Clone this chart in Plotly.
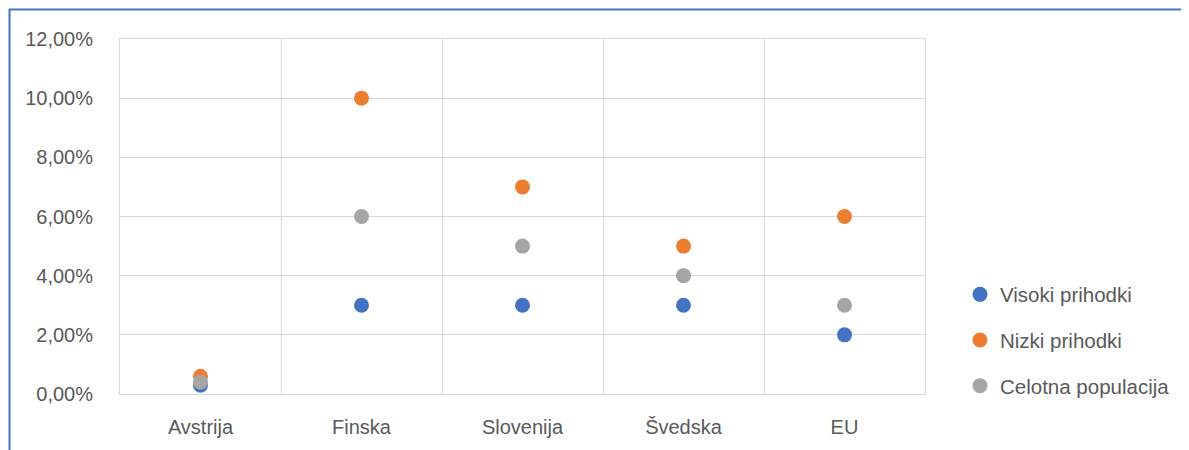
import plotly.graph_objects as go

categories = ["Avstrija", "Finska", "Slovenija", "Švedska", "EU"]
visoki = [0.3, 3, 3, 3, 2]
nizki = [0.6, 10, 7, 5, 6]
celotna = [0.4, 6, 5, 4, 3]
series_names = ["Visoki prihodki", "Nizki prihodki", "Celotna populacija"]
y_ticks = [0, 2, 4, 6, 8, 10, 12]
y_tick_labels = ["0,00%", "2,00%", "4,00%", "6,00%", "8,00%", "10,00%", "12,00%"]

colors = ["#4472C4", "#ED7D31", "#A5A5A5"]
font = "Liberation Sans"

fig = go.Figure()
for i, (name, vals) in enumerate(zip(series_names, [visoki, nizki, celotna])):
    fig.add_trace(go.Scatter(
        x=categories, y=vals, mode="markers", name=name,
        legendgroup=name,
        marker=dict(size=15, color=colors[i]),
    ))

# page body has an 8px offset
OFF = 8
W, H = 1189 - OFF, 450 - OFF
L, T = 120 - OFF, 39 - OFF
pw, ph = 805, 355
R = W - L - pw
B = H - T - ph

def px_x(x):  # window px -> paper x
    return (x - OFF - L) / pw

def px_y(y):  # window px -> paper y
    return (T + ph - (y - OFF)) / ph

fig.update_layout(
    width=W, height=H,
    margin=dict(l=L, r=R, t=T, b=B, autoexpand=False),
    paper_bgcolor="white", plot_bgcolor="white",
    font=dict(family=font, size=20, color="#595959"),
    showlegend=True,
    legend=dict(
        x=px_x(960), y=px_y(340), xanchor="left", yanchor="middle",
        font=dict(size=20.5, color="#595959"),
        tracegroupgap=16, itemsizing="trace", traceorder="grouped",
        itemwidth=30, bgcolor="rgba(0,0,0,0)",
    ),
    xaxis=dict(
        type="category", range=[-0.5, 4.5], tickson="boundaries",
        showgrid=True, gridcolor="#D9D9D9", gridwidth=1,
        showline=True, linecolor="#D9D9D9", mirror=True,
        ticks="outside", ticklen=0, ticklabelstandoff=15,
        tickfont=dict(size=20, color="#595959"),
    ),
    yaxis=dict(
        range=[0, 12], tickvals=y_ticks, ticktext=y_tick_labels,
        showgrid=True, gridcolor="#D9D9D9", gridwidth=1,
        zeroline=False, showline=True, linecolor="#D9D9D9", mirror=True,
        ticks="", ticklabelstandoff=22,
        tickfont=dict(size=20, color="#595959"),
    ),
    shapes=[
        dict(type="line", xref="paper", yref="paper",
             x0=px_x(9), x1=px_x(1200), y0=px_y(9.5), y1=px_y(9.5),
             line=dict(color="#4472C4", width=2)),
        dict(type="line", xref="paper", yref="paper",
             x0=px_x(9.5), x1=px_x(9.5), y0=px_y(9), y1=px_y(460),
             line=dict(color="#4472C4", width=2)),
    ],
)

fig.write_html("out.html")
